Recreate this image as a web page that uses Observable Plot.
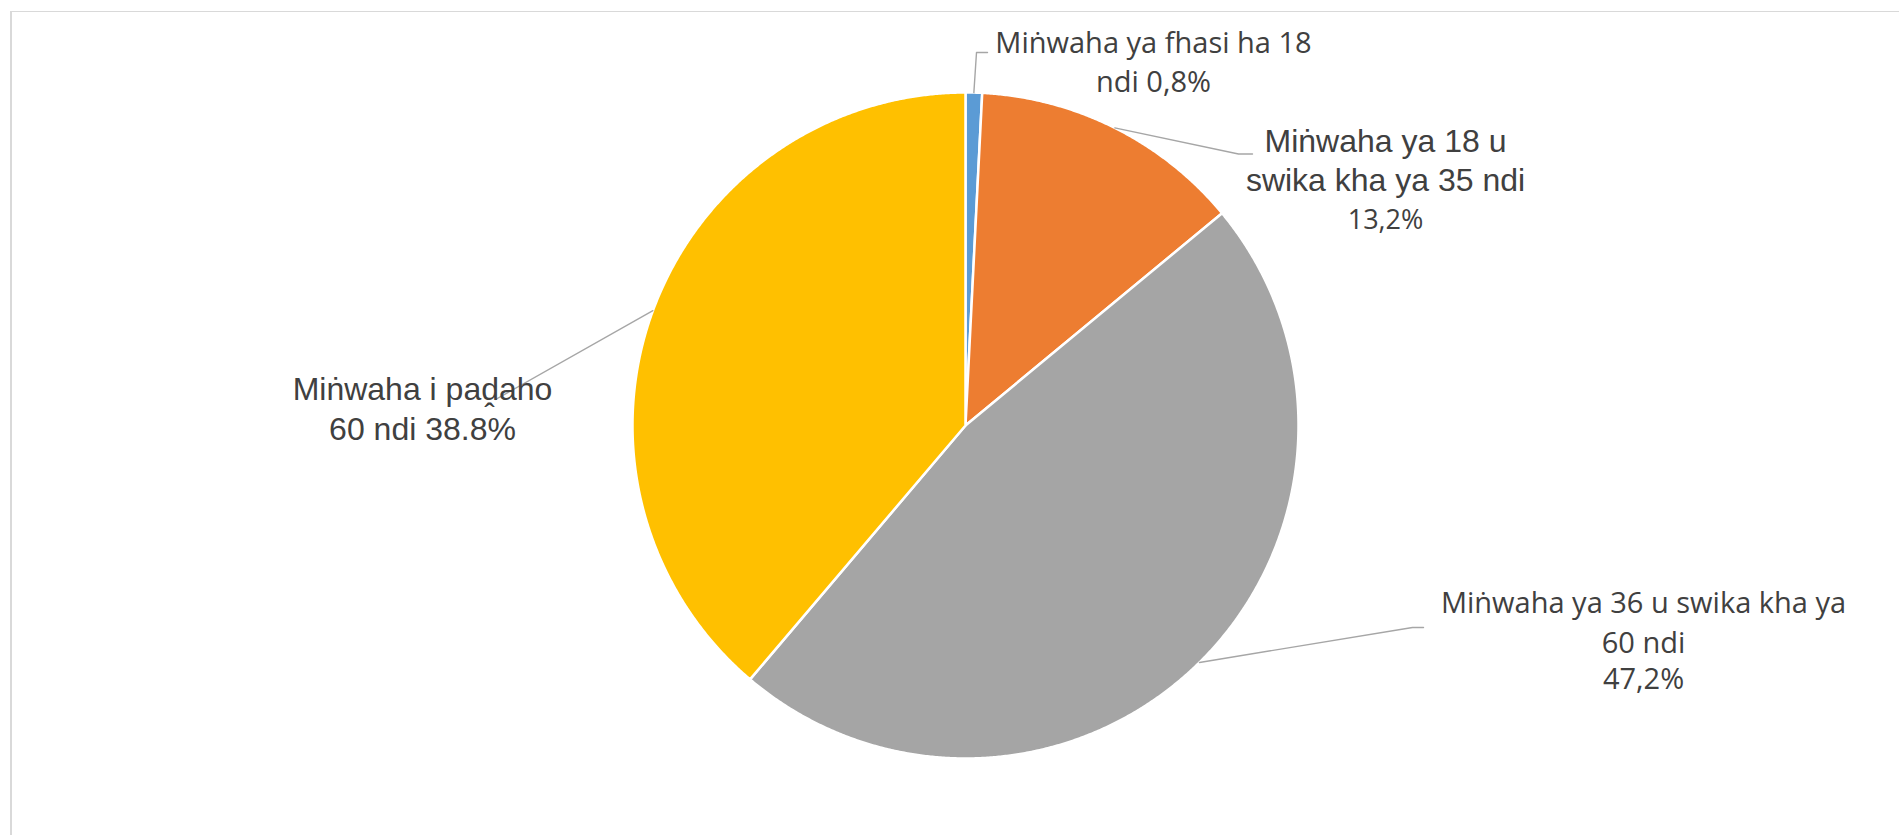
<!DOCTYPE html>
<html><head><meta charset="utf-8">
<script src="https://cdn.jsdelivr.net/npm/d3@7"></script>
<script src="https://cdn.jsdelivr.net/npm/@observablehq/plot@0.6"></script>
<style>
body{margin:0;background:#fff;overflow:hidden}
#wrap{position:relative;width:1899px;height:835px}
#wrap svg{position:absolute;left:0;top:0}
#frame{position:absolute;left:10px;top:11px;width:1920px;height:860px;border-left:2px solid #d9d9d9;border-top:1.5px solid #d9d9d9;pointer-events:none}
</style></head><body><div id="wrap"><div id="frame"></div></div>
<script>
// ---- data ----
const categories = ["Miṅwaha ya fhasi ha 18", "Miṅwaha ya 18 u swika kha ya 35", "Miṅwaha ya 36 u swika kha ya 60", "Miṅwaha i paḓaho 60"];
const shares = [0.8, 13.2, 47.2, 38.8];
const colors = ["#5b9bd5", "#ed7d31", "#a5a5a5", "#ffc000"];
const labelText = [
  ["Miṅwaha ya fhasi ha 18", "ndi 0,8%"],
  ["Miṅwaha ya 18 u", "swika kha ya 35 ndi", "13,2%"],
  ["Miṅwaha ya 36 u swika kha ya", "60 ndi", "47,2%"],
  ["Miṅwaha i paḓaho", "60 ndi 38.8%"]
];

// ---- layout (pixels) ----
const W = 1899, H = 835, CX = 965, CY = 425, R = 333;
const OS = "'Open Sans', sans-serif", LS = "'Liberation Sans', Arial, sans-serif";
const labelLayout = [
  {x: 1153, y: [52, 91], font: [OS, OS], size: [29, 29], elbow: [976, 52], end: [987, 52]},
  {x: 1385, y: [151, 190, 228], font: [LS, LS, OS], size: [32, 32, 27], elbow: [1238, 153.5], end: [1252, 153.5]},
  {x: 1643, y: [612, 652, 688], font: [OS, OS, OS], size: [29, 29, 29], elbow: [1412, 627], end: [1423, 627]},
  {x: 422, y: [399, 439], font: [LS, LS], size: [32, 32], elbow: [495, 399], end: [495, 399]}
];
const ux = px => (px - CX) / R;
const uy = py => (CY - py) / R;

const records = categories.map((c, i) => ({key: c, share: shares[i]}));
const arcs = d3.pie().sort(null).value(d => d.share)(records);

const slicePts = [];
for (const a of arcs) {
  slicePts.push({key: a.data.key, x: 0, y: 0});
  const n = Math.max(2, Math.ceil((a.endAngle - a.startAngle) / 0.005));
  for (let k = 0; k <= n; k++) {
    const t = a.startAngle + (a.endAngle - a.startAngle) * k / n;
    slicePts.push({key: a.data.key, x: Math.sin(t), y: Math.cos(t)});
  }
}

const leaderPts = [];
const textRows = [];
arcs.forEach((a, i) => {
  const m = (a.startAngle + a.endAngle) / 2;
  const L = labelLayout[i];
  leaderPts.push({key: a.data.key, x: Math.sin(m), y: Math.cos(m)});
  leaderPts.push({key: a.data.key, x: ux(L.elbow[0]), y: uy(L.elbow[1])});
  leaderPts.push({key: a.data.key, x: ux(L.end[0]), y: uy(L.end[1])});
  labelText[i].forEach((t, j) => {
    textRows.push({text: t, x: ux(L.x), y: uy(L.y[j]), font: L.font[j], size: L.size[j]});
  });
});

const chart = Plot.plot({
  width: W, height: H, margin: 0,
  x: {domain: [-CX / R, (W - CX) / R], range: [0, W], axis: null},
  y: {domain: [-(H - CY) / R, CY / R], range: [H, 0], axis: null},
  color: {domain: categories, range: colors},
  style: {background: "transparent"},
  marks: [
    Plot.line(slicePts, {x: "x", y: "y", z: "key", fill: "key", stroke: "white", strokeWidth: 2.5, curve: "linear-closed"}),
    Plot.line(leaderPts, {x: "x", y: "y", z: "key", stroke: "#a6a6a6", strokeWidth: 1.4}),
    Plot.text(textRows.filter(d => d.font === OS), {x: "x", y: "y", text: "text", fontSize: d => d.size, fontFamily: OS, fill: "#404040", textAnchor: "middle", lineAnchor: "bottom"}),
    Plot.text(textRows.filter(d => d.font === LS), {x: "x", y: "y", text: "text", fontSize: d => d.size, fontFamily: LS, fill: "#404040", textAnchor: "middle", lineAnchor: "bottom"})
  ]
});
document.getElementById("wrap").prepend(chart);
</script>
</body></html>
